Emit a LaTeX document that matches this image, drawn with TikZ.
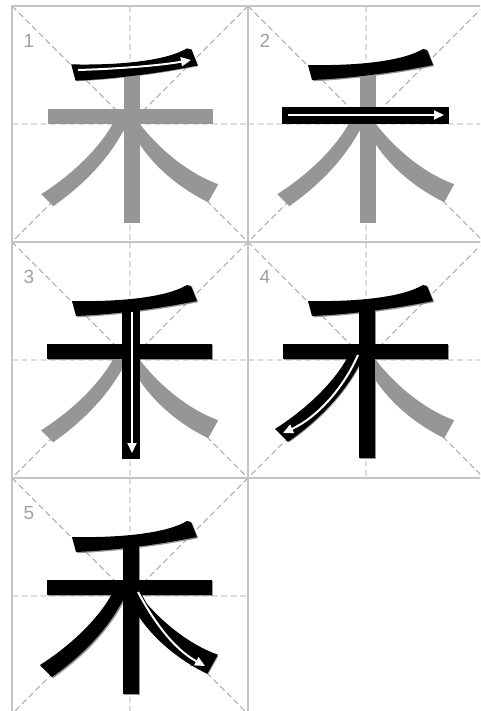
\documentclass[tikz,border=0pt]{standalone}
\usepackage{fontspec}
\setmainfont{Liberation Sans}
\usetikzlibrary{arrows.meta}
\definecolor{ghost}{HTML}{969696}
\definecolor{framec}{HTML}{C4C4C4}
\definecolor{guide}{HTML}{A0A0A0}
\definecolor{numc}{HTML}{A0A0A0}
\newcommand\pA{(60,59) .. controls (110,60) and (155,55) .. (175,43) -- (179,44) -- (185,59) .. controls (155,65) and (110,72) .. (64,74) -- cycle}
\newcommand\pB{(35,102) rectangle (200,117)}
\newcommand\pC{(111,66) rectangle (127,216)}
\newcommand\pD{(102,112) .. controls (88,140) and (58,168) .. (28,187) -- (40,199) .. controls (70,178) and (98,150) .. (114,116) -- cycle}
\newcommand\pE{(123,112) .. controls (142,138) and (172,165) .. (205,177) -- (195,195) .. controls (160,178) and (130,150) .. (116,118) -- cycle}
\newcommand\aA{(66,64) .. controls (100,63) and (145,60) .. (179,54)}
\newcommand\aB{(40,109) -- (196,109)}
\newcommand\aC{(120,70) -- (120,211)}
\newcommand\aD{(110,113) .. controls (96,145) and (70,175) .. (35,191)}
\newcommand\aE{(126,114) .. controls (140,140) and (160,170) .. (193,188)}
\tikzset{
  guideline/.style={guide, line width=0.9pt, dash pattern=on 6pt off 3.5pt},
  frameline/.style={framec, line width=1.3pt},
  ghoststroke/.style={fill=ghost},
  inkstroke/.style={fill=black},
  arrowback/.style={black, line width=4pt, -{Triangle[length=13pt,width=12pt]}},
  arrowfront/.style={white, line width=2pt, -{Triangle[length=10pt,width=9pt]}},
  numlabel/.style={numc, font=\fontsize{19}{19}\selectfont, inner sep=0pt},
  ghostset/.style={shift={(1.2,1.2)}}
}
\newcommand\gridcell{%
  \draw[guideline] (0,0) -- (236,236) (236,0) -- (0,236) (118,0) -- (118,236) (0,118) -- (236,118);
  \draw[frameline] (0,0) rectangle (236,236);}
\newcommand\ghostchar{%
  \begin{scope}[ghostset]
    \fill[ghoststroke] \pA; \fill[ghoststroke] \pB; \fill[ghoststroke] \pC;
    \fill[ghoststroke] \pD; \fill[ghoststroke] \pE;
  \end{scope}}
\begin{document}
\begin{tikzpicture}[x=1pt,y=-1pt]
\useasboundingbox (0,0) rectangle (480,711);
\clip (0,0) rectangle (480,711);
\fill[white] (0,0) rectangle (480,711);
% cell 1
\begin{scope}[shift={(12,6)}]
  \gridcell
  \node[numlabel] (n1) at (17,35) {1};
  \ghostchar
  \filldraw[inkstroke, draw=black, line width=1.2pt] \pA;
  \draw[arrowback] \aA; \draw[arrowfront] \aA;
\end{scope}
% cell 2
\begin{scope}[shift={(248,6)}]
  \gridcell
  \node[numlabel] (n2) at (17,35) {2};
  \ghostchar
  \fill[inkstroke] \pA;
  \filldraw[inkstroke, draw=black, line width=1.2pt] \pB;
  \draw[arrowback] \aB; \draw[arrowfront] \aB;
\end{scope}
% cell 3
\begin{scope}[shift={(12,242)}]
  \gridcell
  \node[numlabel] (n3) at (17,35) {3};
  \ghostchar
  \fill[inkstroke] \pA; \fill[inkstroke] \pB;
  \filldraw[inkstroke, draw=black, line width=1.2pt] \pC;
  \draw[arrowback] \aC; \draw[arrowfront] \aC;
\end{scope}
% cell 4
\begin{scope}[shift={(248,242)}]
  \gridcell
  \node[numlabel] (n4) at (17,35) {4};
  \ghostchar
  \fill[inkstroke] \pA; \fill[inkstroke] \pB; \fill[inkstroke] \pC;
  \filldraw[inkstroke, draw=black, line width=1.2pt] \pD;
  \draw[arrowback] \aD; \draw[arrowfront] \aD;
\end{scope}
% cell 5
\begin{scope}[shift={(12,478)}]
  \gridcell
  \node[numlabel] (n5) at (17,35) {5};
  \ghostchar
  \fill[inkstroke] \pA; \fill[inkstroke] \pB; \fill[inkstroke] \pC; \fill[inkstroke] \pD;
  \filldraw[inkstroke, draw=black, line width=1.2pt] \pE;
  \draw[arrowback] \aE; \draw[arrowfront] \aE;
\end{scope}
\end{tikzpicture}
\end{document}
